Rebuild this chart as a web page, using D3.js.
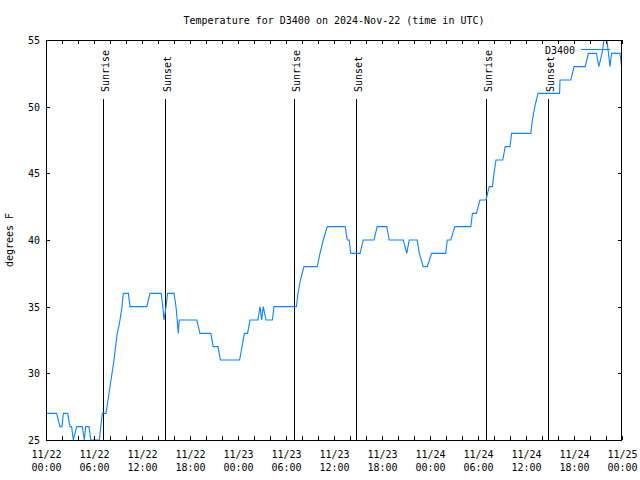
<!DOCTYPE html>
<html><head><meta charset="utf-8">
<script src="https://cdn.jsdelivr.net/npm/d3@7/dist/d3.min.js"></script>
<style>
body{margin:0;background:#fff;}
text{font-family:"DejaVu Sans Mono",monospace;font-size:10px;fill:#000;}
</style></head>
<body><svg id="c" width="640" height="480"></svg>
<script>
// hours since 2024-11-22 00:00 UTC
const hours = [0,1.33,1.75,2.0,2.17,2.7,3.0,3.2,3.41,3.84,4.54,4.79,4.96,5.375,5.59,6.66,7.04,7.5,
  7.75,8.0,8.25,8.5,8.7,8.9,9.1,9.25,9.5,9.66,10.3,10.5,12.6,13.0,14.4,14.6,14.75,15.0,15.2,16.0,16.25,16.4,16.54,16.66,
  18.84,19.25,20.6,20.9,21.5,21.8,24.2,24.5,24.8,25.2,25.5,26.5,26.75,26.96,27.16,27.5,28.3,28.5,
  31.3,31.5,31.8,32.25,33.9,34.25,34.66,35.16,37.4,37.66,37.9,38.1,39.25,39.66,41.0,41.4,42.6,42.9,
  44.66,45.1,45.4,46.4,46.66,47.16,47.66,48.2,49.96,50.16,50.6,51.1,53.1,53.3,53.8,54.25,55.0,55.4,
  55.8,56.0,56.25,57.1,57.4,58.0,58.2,60.6,60.8,61.1,61.5,64.2,64.25,65.6,66.0,67.4,67.8,68.8,69.1,
  69.5,69.75,70.0,70.25,70.5,70.7,71.75,71.95];
const tempF = [27,27,26,26,27,27,26,26,25,26,26,25,26,26,25,25,27,27,
  28,29,30,31,32,33,33.5,34,35,36,36,35,35,36,36,35,34,35,36,36,35,34,33,34,
  34,33,33,32,32,31,31,32,33,33,34,34,35,34,35,34,34,35,
  35,36,37,38,38,39,40,41,41,40,40,39,39,40,40,41,41,40,
  40,39,40,40,39,38,38,39,39,40,40,41,41,42,42,43,43,44,
  44,45,46,46,47,47,48,48,49,50,51,51,52,52,53,53,54,54,53,
  54,55,55.5,54.3,53,54,54,53];
const sunriseHours = [7.1, 31.05, 55.05];
const sunsetHours = [14.9, 38.8, 62.8];
const yTicks = [25,30,35,40,45,50,55];
const xMajorHours = [0,6,12,18,24,30,36,42,48,54,60,66,72];
const xMinorHours = [2,4,8,10,14,16,20,22,26,28,32,34,38,40,44,46,50,52,56,58,62,64,68,70];
const titleText = "Temperature for D3400 on 2024-Nov-22 (time in UTC)";
const yLabel = "degrees F";
const seriesName = "D3400";

const t0 = Date.UTC(2024,10,22,0,0);
const toDate = h => new Date(t0 + h*3600e3);
const svg = d3.select("#c");
const L=46, R=622, T=40, B=440;
const x = d3.scaleUtc().domain([toDate(0), toDate(72)]).range([L,R]);
const y = d3.scaleLinear().domain([25,55]).range([B,T]);

svg.append("text").attr("x",334).attr("y",24).attr("text-anchor","middle").text(titleText);
svg.append("text").attr("transform","translate(13,240) rotate(-90)").attr("text-anchor","middle").text(yLabel);

svg.append("defs").append("clipPath").attr("id","clip").append("rect")
  .attr("x",L).attr("y",T).attr("width",R-L).attr("height",B-T);

// sunrise / sunset lines
const events = sunriseHours.map(h=>({h,label:"Sunrise"})).concat(sunsetHours.map(h=>({h,label:"Sunset"})));
events.forEach(e=>{
  const px = Math.round(x(toDate(e.h)))+0.5;
  svg.append("line").attr("x1",px).attr("x2",px).attr("y1",99).attr("y2",B)
    .attr("stroke","#000").attr("stroke-width",1).attr("shape-rendering","crispEdges");
  svg.append("text").attr("transform",`translate(${px+5},92) rotate(-90)`)
    .attr("text-anchor","start").text(e.label);
});

// data line
const pts = hours.map((h,i)=>[toDate(h), tempF[i]]);
svg.append("path").datum(pts).attr("clip-path","url(#clip)")
  .attr("fill","none").attr("stroke","#0a84ff").attr("stroke-width",1.1)
  .attr("d", d3.line().x(d=>x(d[0])).y(d=>y(d[1])));

// axes
const fmtDate = d3.utcFormat("%m/%d"), fmtTime = d3.utcFormat("%H:%M");
const styleAxis = g => { g.select(".domain").remove(); g.selectAll("line").attr("stroke","#000").attr("shape-rendering","crispEdges"); };
const bottom = svg.append("g").attr("transform",`translate(0,${B})`)
  .call(d3.axisBottom(x).tickValues(xMajorHours.map(toDate)).tickSize(-4).tickFormat(""));
styleAxis(bottom);
bottom.selectAll(".tick").each(function(d){
  const g = d3.select(this);
  g.append("text").attr("y",17.5).attr("text-anchor","middle").style("font-size","10px").text(fmtDate(d));
  g.append("text").attr("y",31).attr("text-anchor","middle").style("font-size","10px").text(fmtTime(d));
});
styleAxis(svg.append("g").attr("transform",`translate(0,${B})`)
  .call(d3.axisBottom(x).tickValues(xMinorHours.map(toDate)).tickSize(-4).tickFormat("")));
styleAxis(svg.append("g").attr("transform",`translate(0,${T})`)
  .call(d3.axisTop(x).tickValues(xMajorHours.concat(xMinorHours).map(toDate)).tickSize(-4).tickFormat("")));
const left = svg.append("g").attr("transform",`translate(${L},0)`)
  .call(d3.axisLeft(y).tickValues(yTicks).tickSize(-4).tickPadding(6).tickFormat(d3.format("d")));
styleAxis(left);
left.selectAll("text").attr("font-family",null).style("font-size","10px").attr("dy","0.35em");
styleAxis(svg.append("g").attr("transform",`translate(${R},0)`)
  .call(d3.axisRight(y).tickValues(yTicks).tickSize(-4).tickFormat("")));

// border
svg.append("rect").attr("x",L+0.5).attr("y",T+0.5).attr("width",R-L-1).attr("height",B-T)
  .attr("fill","none").attr("stroke","#000").attr("stroke-width",1).attr("shape-rendering","crispEdges");

// legend
svg.append("text").attr("x",575).attr("y",54).attr("text-anchor","end").text(seriesName);
svg.append("line").attr("x1",581).attr("x2",610).attr("y1",49.5).attr("y2",49.5)
  .attr("stroke","#0a84ff").attr("stroke-width",1.1);
</script></body></html>
